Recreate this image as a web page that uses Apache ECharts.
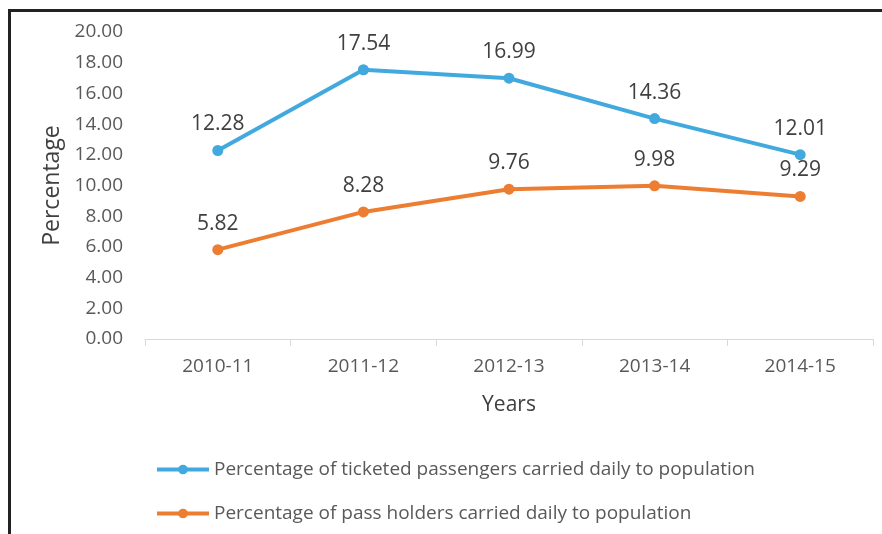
<!DOCTYPE html>
<html>
<head>
<meta charset="utf-8">
<script src="https://cdn.jsdelivr.net/npm/echarts@6/dist/echarts.min.js"></script>
<style>
    html, body { margin: 0; padding: 0; background: #fff; }
    #frame {
        position: absolute;
        left: 8px;
        top: 9px;
        width: 874px;
        height: 525px;
        border-left: 3px solid #222;
        border-top: 3px solid #222;
        box-sizing: border-box;
    }
    #chart { position: absolute; left: 0; top: 0; width: 882px; height: 534px; }
</style>
</head>
<body>
<div id="frame"></div>
<div id="chart"></div>
<script>
const years = ['2010-11', '2011-12', '2012-13', '2013-14', '2014-15']
const ticketed = [12.28, 17.54, 16.99, 14.36, 12.01]
const passHolders = [5.82, 8.28, 9.76, 9.98, 9.29]
const seriesNames = [
    'Percentage of ticketed passengers carried daily to population',
    'Percentage of pass holders carried daily to population'
]

const font = "'Open Sans', 'Noto Sans', sans-serif"
const chart = echarts.init(document.getElementById('chart'))

const lineSeries = (name, data, color) => ({
    name: name,
    type: 'line',
    data: data,
    symbol: 'circle',
    symbolSize: 11,
    lineStyle: { width: 4, color: color },
    itemStyle: { color: color },
    label: {
        show: true,
        position: 'top',
        distance: 10,
        color: '#404040',
        fontSize: 21,
        fontFamily: font,
        formatter: p => p.value.toFixed(2)
    }
})

chart.setOption({
    animation: false,
    textStyle: { fontFamily: font },
    grid: { left: 145, right: 9, top: 32, bottom: 195 },
    legend: {
        orient: 'vertical',
        left: 150,
        top: 455,
        itemGap: 25,
        itemWidth: 52,
        itemHeight: 12,
        lineStyle: { width: 4 },
        textStyle: { color: '#595959', fontSize: 19, fontFamily: font },
        data: seriesNames
    },
    xAxis: {
        type: 'category',
        data: years,
        name: 'Years',
        nameLocation: 'middle',
        nameGap: 56,
        nameTextStyle: { color: '#404040', fontSize: 21, fontFamily: font },
        axisLine: { lineStyle: { color: '#d9d9d9', width: 1 } },
        axisTick: { show: true, length: 7, lineStyle: { color: '#d9d9d9' } },
        axisLabel: { color: '#595959', fontSize: 19, margin: 18, fontFamily: font }
    },
    yAxis: {
        type: 'value',
        min: 0,
        max: 20,
        interval: 2,
        name: 'Percentage',
        nameLocation: 'middle',
        nameGap: 80,
        nameTextStyle: { color: '#404040', fontSize: 23, fontFamily: font },
        axisLine: { show: false },
        axisTick: { show: false },
        splitLine: { show: false },
        axisLabel: {
            color: '#595959',
            fontSize: 19,
            margin: 22,
            fontFamily: font,
            formatter: v => v.toFixed(2)
        }
    },
    series: [
        lineSeries(seriesNames[0], ticketed, '#41a9dd'),
        lineSeries(seriesNames[1], passHolders, '#ed7d31')
    ]
})
</script>
</body>
</html>
